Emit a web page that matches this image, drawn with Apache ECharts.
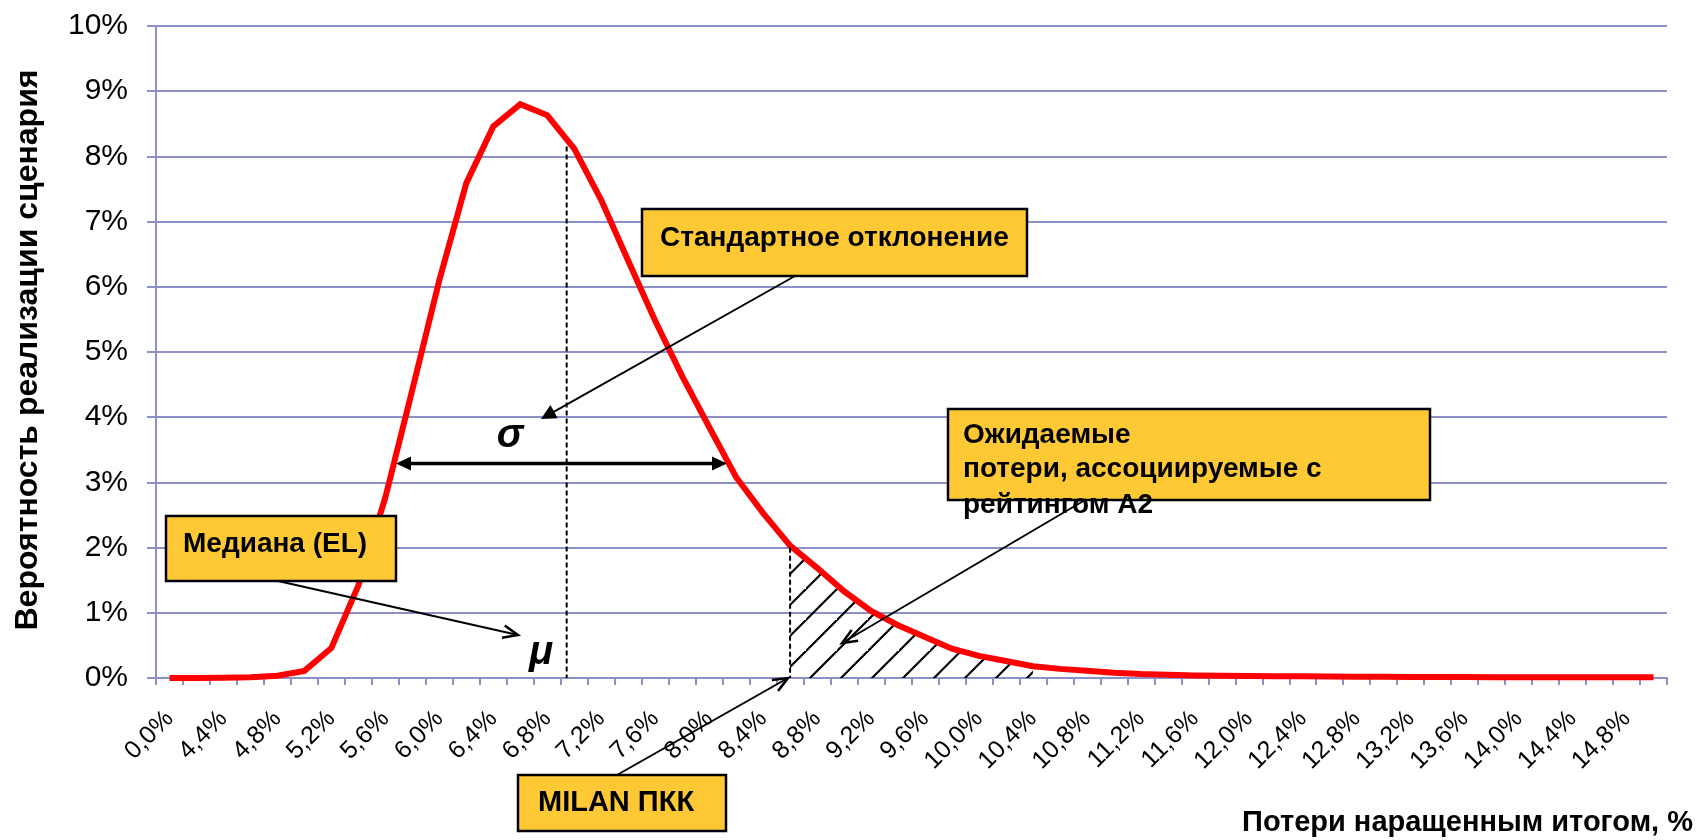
<!DOCTYPE html>
<html>
<head>
<meta charset="utf-8">
<script src="https://cdn.jsdelivr.net/npm/echarts@6/dist/echarts.min.js"></script>
<style>
html,body{margin:0;padding:0;background:#fff;}
#c{width:1702px;height:840px;}
</style>
</head>
<body>
<div id="c"></div>
<script>
// ---- data ----
const categories = ['0,0%','4,2%','4,4%','4,6%','4,8%','5,0%','5,2%','5,4%','5,6%','5,8%','6,0%','6,2%','6,4%','6,6%','6,8%','7,0%','7,2%','7,4%','7,6%','7,8%','8,0%','8,2%','8,4%','8,6%','8,8%','9,0%','9,2%','9,4%','9,6%','9,8%','10,0%','10,2%','10,4%','10,6%','10,8%','11,0%','11,2%','11,4%','11,6%','11,8%','12,0%','12,2%','12,4%','12,6%','12,8%','13,0%','13,2%','13,4%','13,6%','13,8%','14,0%','14,2%','14,4%','14,6%','14,8%','15,0%'];
const probabilities = [0, 0, 0.005, 0.012, 0.035, 0.11, 0.46, 1.42, 2.77, 4.42, 6.10, 7.59, 8.46, 8.80, 8.63, 8.12, 7.33, 6.40, 5.48, 4.63, 3.85, 3.08, 2.53, 2.03, 1.69, 1.33, 1.03, 0.81, 0.63, 0.45, 0.34, 0.26, 0.18, 0.14, 0.11, 0.08, 0.06, 0.05, 0.04, 0.035, 0.03, 0.028, 0.025, 0.022, 0.02, 0.018, 0.016, 0.015, 0.014, 0.013, 0.012, 0.011, 0.01, 0.01, 0.01, 0.01];
const yTickLabels = ['0%','1%','2%','3%','4%','5%','6%','7%','8%','9%','10%'];
const hatchStartIndex = 23;   // MILAN ПКК
const hatchEndIndex = 32;
const medianIndex = 14.72;    // position of μ line (between categories)

const xAxisTitle = 'Потери наращенным итогом, %';
const yAxisTitle = 'Вероятность реализации сценария';

// ---- styles ----
const gridColor = '#8C90C6';
const boxFill = '#FFC935';
const FONT = '"Liberation Sans", Arial, Helvetica, sans-serif';

const hatchData = probabilities.map((v, i) => (i >= hatchStartIndex && i <= hatchEndIndex) ? v : '-');

// hatch pattern
const pc = document.createElement('canvas');
const T = 31;
pc.width = T; pc.height = T;
const g = pc.getContext('2d');
g.strokeStyle = '#000';
g.lineWidth = 2.2;
g.beginPath();
g.moveTo(-2, T + 2); g.lineTo(T + 2, -2);
g.moveTo(-2 - T, T + 2); g.lineTo(2, -2);
g.moveTo(T - 2, 2 * T + 2); g.lineTo(2 * T + 2, T - 2);
g.stroke();

const chart = echarts.init(document.getElementById('c'), null, {renderer: 'canvas'});

chart.setOption({
  animation: false,
  backgroundColor: '#fff',
  grid: {left: 156, right: 35, top: 26, bottom: 162, containLabel: false},
  xAxis: {
    type: 'category',
    data: categories,
    boundaryGap: true,
    axisLine: {show: true, lineStyle: {color: gridColor, width: 2}},
    axisTick: {show: true, interval: 0, length: 7, lineStyle: {color: gridColor, width: 2}},
    axisLabel: {interval: 1, rotate: 45, fontSize: 25, fontFamily: FONT, color: '#000', margin: 37},
    splitLine: {show: false}
  },
  yAxis: {
    type: 'value',
    min: 0, max: 10, interval: 1,
    axisLine: {show: true, lineStyle: {color: gridColor, width: 2}},
    axisTick: {show: true, length: 9, lineStyle: {color: gridColor, width: 2}},
    axisLabel: {
      fontSize: 30, fontFamily: FONT, color: '#000', margin: 28,
      formatter: v => yTickLabels[Math.round(v)]
    },
    splitLine: {show: true, lineStyle: {color: gridColor, width: 2}}
  },
  series: [
    {
      name: 'hatch', type: 'line', data: hatchData, symbol: 'none', silent: true, z: 1,
      lineStyle: {width: 0, opacity: 0},
      areaStyle: {color: {image: pc, repeat: 'repeat'}, opacity: 1}
    },
    {
      name: 'prob', type: 'line', data: probabilities, symbol: 'none', z: 3,
      lineStyle: {color: '#FF0000', width: 6, join: 'miter'}
    }
  ]
});

// ---- annotations ----
function P(idx, val) {
  const i0 = Math.floor(idx), f = idx - i0;
  const a = chart.convertToPixel({xAxisIndex: 0, yAxisIndex: 0}, [i0, val]);
  if (f === 0) return a;
  const b = chart.convertToPixel({xAxisIndex: 0, yAxisIndex: 0}, [i0 + 1, val]);
  return [a[0] + (b[0] - a[0]) * f, a[1]];
}

function arrow(x1, y1, x2, y2, w, head, filled) {
  const dx = x2 - x1, dy = y2 - y1, L = Math.hypot(dx, dy);
  const ux = dx / L, uy = dy / L, nx = -uy, ny = ux;
  const bx = x2 - ux * head, by = y2 - uy * head;
  const hw = head * (filled ? 0.5 : 0.42);
  const left = [bx + nx * hw, by + ny * hw], right = [bx - nx * hw, by - ny * hw];
  const els = [];
  els.push({type: 'line', z: 20, shape: {x1, y1, x2: filled ? bx + ux * 2 : x2, y2: filled ? by + uy * 2 : y2},
    style: {stroke: '#000', lineWidth: w}});
  if (filled) {
    els.push({type: 'polygon', z: 20, shape: {points: [left, [x2, y2], right]}, style: {fill: '#000'}});
  } else {
    els.push({type: 'polyline', z: 20, shape: {points: [left, [x2, y2], right]},
      style: {stroke: '#000', lineWidth: w + 0.5, fill: null}});
  }
  return els;
}

function box(x, y, w, h) {
  return {type: 'rect', z: 15, shape: {x, y, width: w, height: h},
    style: {fill: boxFill, stroke: '#000', lineWidth: 2.5}};
}
function label(text, x, y, size, extra) {
  return Object.assign({type: 'text', z: 21, x, y,
    style: {text, font: 'bold ' + size + 'px ' + FONT, fill: '#000', align: 'left', verticalAlign: 'middle'}}, extra || {});
}

const el = [];
// μ dashed line
const mTop = P(medianIndex, 8.15), mBot = P(medianIndex, 0);
el.push({type: 'line', z: 10, shape: {x1: mTop[0], y1: mTop[1], x2: mBot[0], y2: mBot[1]},
  style: {stroke: '#000', lineWidth: 2, lineDash: [5, 3]}});
// MILAN dashed line
const kTop = P(hatchStartIndex, probabilities[hatchStartIndex]), kBot = P(hatchStartIndex, 0);
el.push({type: 'line', z: 10, shape: {x1: kTop[0], y1: kTop[1] + 2, x2: kBot[0], y2: kBot[1]},
  style: {stroke: '#000', lineWidth: 2, lineDash: [5, 3]}});

// σ double arrow
const sy = P(0, 3.29)[1];
el.push({type: 'line', z: 20, shape: {x1: 408, y1: sy, x2: 715, y2: sy}, style: {stroke: '#000', lineWidth: 3.5}});
el.push({type: 'polygon', z: 20, shape: {points: [[396, sy], [411, sy - 7], [411, sy + 7]]}, style: {fill: '#000'}});
el.push({type: 'polygon', z: 20, shape: {points: [[727, sy], [712, sy - 7], [712, sy + 7]]}, style: {fill: '#000'}});

// σ, μ symbols
el.push({type: 'text', z: 21, x: 510, y: 436, style: {text: 'σ', font: 'italic bold 40px ' + FONT, fill: '#000', align: 'center', verticalAlign: 'middle'}});
el.push({type: 'text', z: 21, x: 541, y: 653, style: {text: 'μ', font: 'italic bold 40px ' + FONT, fill: '#000', align: 'center', verticalAlign: 'middle'}});

// Standard deviation box
el.push(box(642, 209, 385, 67));
el.push(label('Стандартное отклонение', 660, 238, 28));
el.push(...arrow(795, 276, 541, 419, 2, 15, true));

// Median box
el.push(box(166, 516, 230, 65));
el.push(label('Медиана (EL)', 183, 544, 28));
el.push(...arrow(278, 581, 518, 635, 2, 15, false));

// MILAN box
el.push(box(518, 775, 208, 56));
el.push(label('MILAN ПКК', 538, 803, 29));
el.push(...arrow(617, 775, 788, 678, 2, 15, false));

// Expected loss box
el.push(box(948, 409, 482, 91));
el.push(label('Ожидаемые', 963, 435, 28));
el.push(label('потери, ассоциируемые с', 963, 469, 28));
el.push(label('рейтингом А2', 963, 505, 28, {z: 22}));
el.push(...arrow(1085, 500, 842, 643, 2, 15, false));

// axis titles
el.push({type: 'text', z: 21, x: 1693, y: 823, style: {text: xAxisTitle, font: 'bold 29px ' + FONT, fill: '#000', align: 'right', verticalAlign: 'middle'}});
el.push({type: 'text', z: 21, x: 28, y: 350, rotation: Math.PI / 2, style: {text: yAxisTitle, font: 'bold 32px ' + FONT, fill: '#000', align: 'center', verticalAlign: 'middle'}});

chart.setOption({graphic: {elements: el}});
</script>
</body>
</html>
